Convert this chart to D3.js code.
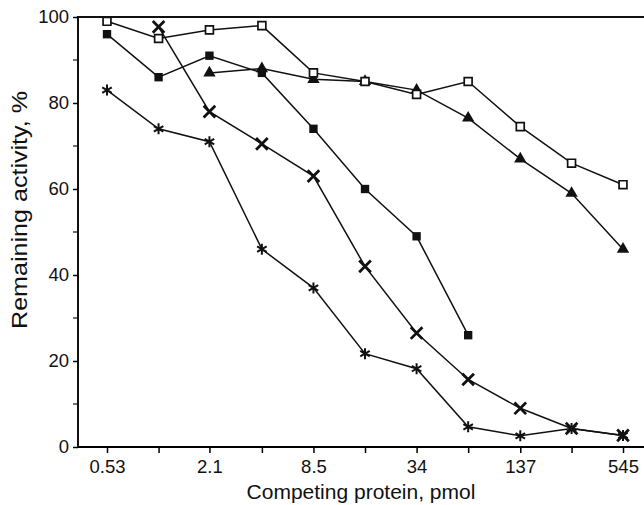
<!DOCTYPE html>
<html>
<head>
<meta charset="utf-8">
<script src="https://cdn.jsdelivr.net/npm/d3@7"></script>
<style>
  body { margin: 0; background: #fff; }
  text { font-family: "Liberation Sans", Arial, sans-serif; fill: #111; }
</style>
</head>
<body>
<div id="graph"></div>
<script>
// competing protein, pmol (two-fold steps)
var doses = [0.53, 1.06, 2.1, 4.25, 8.5, 17, 34, 68, 137, 273, 545]
var doseLabels = ['0.53', '', '2.1', '', '8.5', '', '34', '', '137', '', '545']
var yTicks = [0, 20, 40, 60, 80, 100]
var yMinor = [10, 30, 50, 70, 90]

// remaining activity, %
var openSquare   = [99, 95, 97, 98, 87, 85, 82, 85, 74.5, 66, 61]
var filledSquare = [96, 86, 91, 87, 74, 60, 49, 26, null, null, null]
var triangle     = [null, null, 87, 88, 85.5, 85, 83, 76.5, 67, 59, 46]
var cross        = [null, 97.7, 78, 70.5, 63, 42, 26.5, 15.7, 9, 4.3, 2.7]
var asterisk     = [83, 74, 71, 46, 37, 21.7, 18.2, 4.7, 2.6, 4.3, 2.7]

function init(){
  var series = [
    {values: asterisk, symbol: d3.symbolAsterisk, size: 85, fill: 'none', sw: 2},
    {values: cross, symbol: d3.symbolTimes, size: 90, fill: 'none', sw: 2.8},
    {values: filledSquare, symbol: d3.symbolSquare, size: 70, fill: '#111', sw: 0},
    {values: triangle, symbol: d3.symbolTriangle, size: 66, fill: '#111', sw: 0},
    {values: openSquare, symbol: d3.symbolSquare, size: 62, fill: '#fff', sw: 1.7},
  ]

  var width = 644, height = 505
  var svg = d3.select('#graph').append('svg')
    .attr('width', width).attr('height', height)

  var mLeft = 78, mTop = 17, mBottom = 447

  var x = d3.scaleLog().domain([0.53, 545]).range([107, 623])
  var y = d3.scaleLinear().domain([0, 100]).range([mBottom, mTop])

  // frame: left axis + top border
  svg.append('path')
    .attr('d', `M${mLeft},${mBottom}V${mTop}H${width}`)
    .attr('fill', 'none').attr('stroke', '#111').attr('stroke-width', 2)

  var xAxis = svg.append('g')
    .attr('transform', `translate(0,${mBottom})`)
    .call(d3.axisBottom(x).tickValues(doses)
      .tickFormat((d, i) => doseLabels[i]).tickSizeOuter(0).tickSize(6).tickPadding(7))
  xAxis.select('.domain').attr('d', `M${mLeft},0H${width}`).attr('stroke-width', 2)
  xAxis.selectAll('.tick line').attr('stroke-width', 1.5)
  xAxis.selectAll('text').style('font-size', '18.5px')

  var yAxis = svg.append('g')
    .attr('transform', `translate(${mLeft},0)`)
    .call(d3.axisLeft(y).tickValues(yTicks).tickSizeOuter(0).tickSize(5).tickPadding(4))
  yAxis.select('.domain').remove()
  yAxis.selectAll('.tick line').attr('stroke-width', 1.5)
  yAxis.selectAll('text').style('font-size', '18.5px')

  svg.append('g').selectAll('line').data(yMinor).join('line')
    .attr('x1', mLeft - 5).attr('x2', mLeft)
    .attr('y1', d => y(d)).attr('y2', d => y(d))
    .attr('stroke', '#111').attr('stroke-width', 1.2)

  var line = d3.line()
    .defined(d => d[1] != null)
    .x(d => x(d[0])).y(d => y(d[1]))

  series.forEach(s => {
    var pts = doses.map((d, i) => [d, s.values[i]])
    svg.append('path').datum(pts)
      .attr('d', line)
      .attr('fill', 'none').attr('stroke', '#111').attr('stroke-width', 1.5)
  })

  series.forEach(s => {
    var pts = doses.map((d, i) => [d, s.values[i]]).filter(d => d[1] != null)
    svg.append('g').selectAll('path').data(pts).join('path')
      .attr('transform', d => `translate(${x(d[0])},${y(d[1])})`)
      .attr('d', d3.symbol(s.symbol, s.size))
      .attr('fill', s.fill)
      .attr('stroke', '#111')
      .attr('stroke-width', s.sw)
  })

  // axis titles
  svg.append('text')
    .attr('x', 361).attr('y', 499)
    .attr('text-anchor', 'middle')
    .style('font-size', '21px')
    .text('Competing protein, pmol')

  svg.append('text')
    .attr('transform', 'translate(27,210) rotate(-90)')
    .attr('text-anchor', 'middle')
    .attr('textLength', 238)
    .attr('lengthAdjust', 'spacingAndGlyphs')
    .style('font-size', '22px')
    .text('Remaining activity, %')
}

init()
</script>
</body>
</html>
